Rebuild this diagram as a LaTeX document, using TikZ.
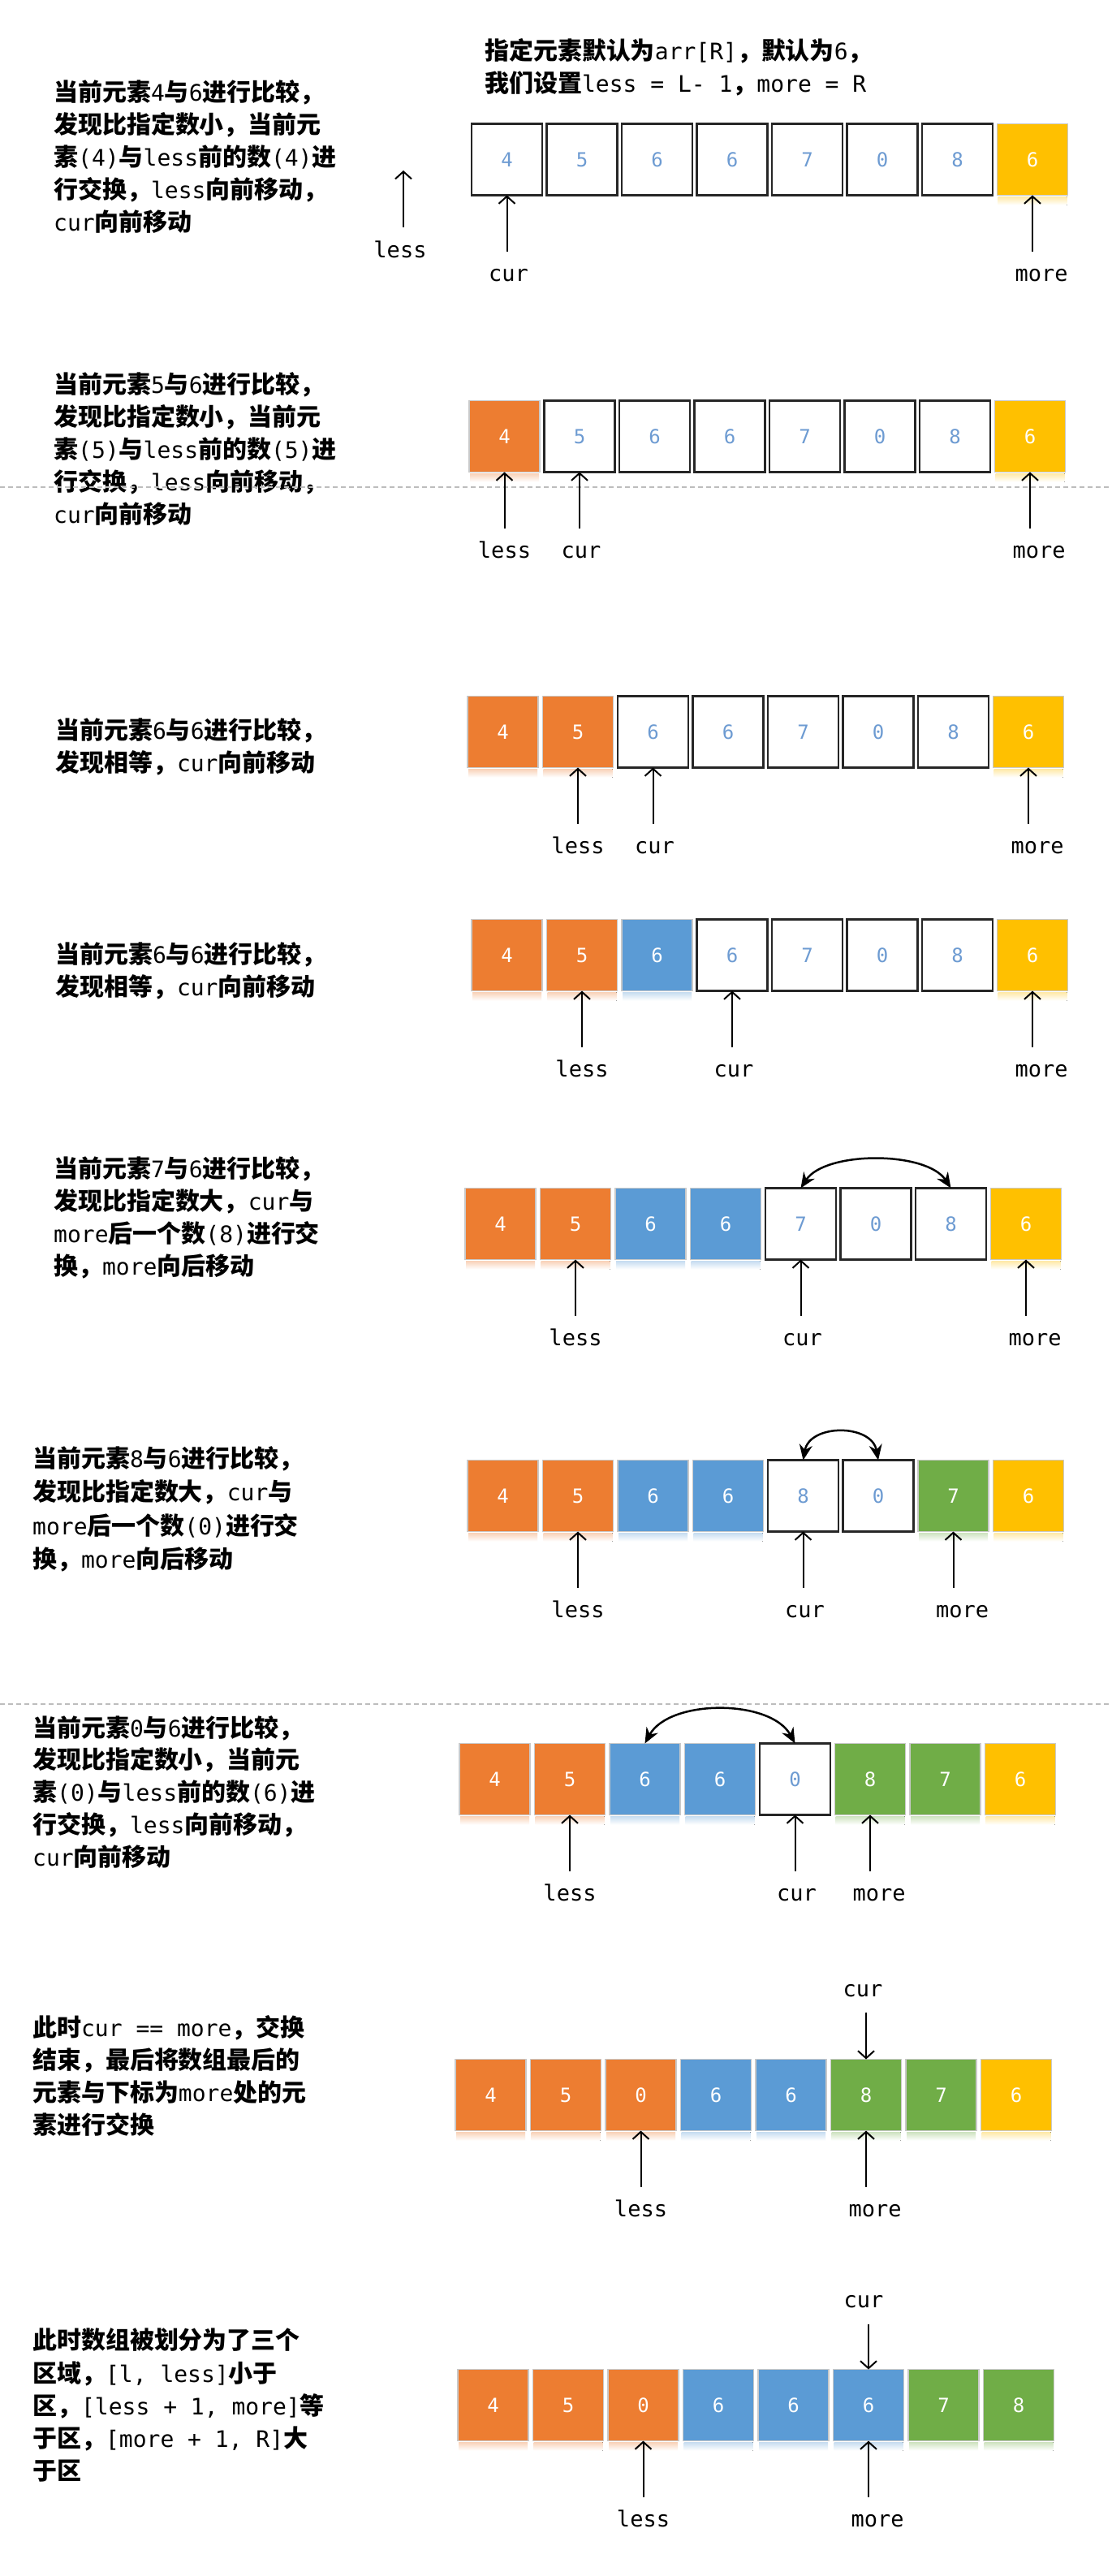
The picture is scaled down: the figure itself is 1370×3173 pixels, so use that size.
\documentclass[tikz,border=0pt]{standalone}
\usepackage{fontspec}
\setmainfont{DejaVu Sans Mono}
\newfontfamily\cjkf[Scale=1.07]{Noto Sans CJK SC}
\usetikzlibrary{arrows.meta,calc}
\definecolor{cO}{HTML}{ED7D31}
\definecolor{cB}{HTML}{5B9BD5}
\definecolor{cY}{HTML}{FFC000}
\definecolor{cG}{HTML}{70AD47}
\definecolor{cnum}{HTML}{6D9BD2}
\definecolor{cedge}{HTML}{C9C9C9}
\definecolor{cdash}{HTML}{BDBDBD}
\newcommand\zh[1]{{\cjkf\bfseries #1}}
\tikzset{
  cell/.style={minimum width=87pt, minimum height=88pt, inner sep=0pt, outer sep=0pt,
    font=\fontsize{24}{24}\selectfont, line width=1.5pt},
  cellO/.style={cell, fill=cO, draw=cedge, text=white},
  cellB/.style={cell, fill=cB, draw=cedge, text=white},
  cellY/.style={cell, fill=cY, draw=cedge, text=white},
  cellG/.style={cell, fill=cG, draw=cedge, text=white},
  cellW/.style={cell, fill=white, draw=black!85, line width=2.5pt, text=cnum},
  lbl/.style={anchor=base, inner sep=0pt, font=\fontsize{27}{27}\selectfont},
  txt/.style={anchor=base west, inner sep=0pt, font=\fontsize{28}{40}\selectfont},
  ptr/.style={line width=2pt, -{Straight Barb[length=9pt, width=20pt, line width=2pt]}},
  swp/.style={line width=2.5pt, {Stealth[length=19pt, width=16pt]}-{Stealth[length=19pt, width=16pt]}},
  sep/.style={cdash, line width=1.3pt, dash pattern=on 6pt off 4pt},
}
% #1 prefix, #2 x0, #3 top, #4 list colour/value
\newcommand\cellrow[4]{%
  \foreach [count=\i] \cc/\vv in {#4} {
    \node[cell\cc] (#1-\i) at ({#2+(\i-1)*92.5+44.5},{#3+44.5}) {\vv};
    \if\cc W\relax\else
      \fill[top color=c\cc!35!white, bottom color=white]
        ($(#1-\i.south west)+(1,1.5)$) rectangle ($(#1-\i.south east)+(-1,12)$);
    \fi
  }%
}
% #1 prefix, #2 cell, #3 label, #4 label x shift
\newcommand\ptrup[4]{%
  \coordinate (#1-#3-t) at ($(#1-#2.south)+(0,69)$);
  \draw[ptr] (#1-#3-t) -- (#1-#2.south);
  \node[lbl] (#1-#3) at ($(#1-#2.south)+(#4,106)$) {#3};
}
\begin{document}
\begin{tikzpicture}[x=1pt,y=-1pt]
\fill[white] (0,0) rectangle (1370,3173);
\useasboundingbox (0,0) rectangle (1370,3173);

% ---------- section 1
\node[txt] (t0a) at (597,73) {\zh{指定元素默认为}arr[R]\zh{，默认为}6\zh{，}};
\node[txt] (t0b) at (597,113) {\zh{我们设置}less = L- 1\zh{，}more = R};
\node[txt] (t1a) at (66,124) {\zh{当前元素}4\zh{与}6\zh{进行比较，}};
\node[txt] (t1b) at (66,164) {\zh{发现比指定数小，当前元}};
\node[txt] (t1c) at (66,204) {\zh{素}(4)\zh{与}less\zh{前的数}(4)\zh{进}};
\node[txt] (t1d) at (66,244) {\zh{行交换，}less\zh{向前移动，}};
\node[txt] (t1e) at (66,284) {cur\zh{向前移动}};
\cellrow{s1}{580}{152}{W/4,W/5,W/6,W/6,W/7,W/0,W/8,Y/6}
\coordinate (s1-less-h) at (497,210);
\coordinate (s1-less-t) at (497,280);
\draw[ptr] (s1-less-t) -- (s1-less-h);
\node[lbl] (s1-less) at (493,317) {less};
\ptrup{s1}{1}{cur}{2}
\ptrup{s1}{8}{more}{11}

% ---------- section 2
\node[txt] (t2a) at (66,484) {\zh{当前元素}5\zh{与}6\zh{进行比较，}};
\node[txt] (t2b) at (66,524) {\zh{发现比指定数小，当前元}};
\node[txt] (t2c) at (66,564) {\zh{素}(5)\zh{与}less\zh{前的数}(5)\zh{进}};
\node[txt] (t2d) at (66,604) {\zh{行交换，}less\zh{向前移动，}};
\node[txt] (t2e) at (66,644) {cur\zh{向前移动}};
\draw[sep] (0,600) -- (1370,600);
\cellrow{s2}{577}{493}{O/4,W/5,W/6,W/6,W/7,W/0,W/8,Y/6}
\ptrup{s2}{1}{less}{0}
\ptrup{s2}{2}{cur}{2}
\ptrup{s2}{8}{more}{11}

% ---------- section 3
\node[txt] (t3a) at (68,910) {\zh{当前元素}6\zh{与}6\zh{进行比较，}};
\node[txt] (t3b) at (68,950) {\zh{发现相等，}cur\zh{向前移动}};
\cellrow{s3}{575}{857}{O/4,O/5,W/6,W/6,W/7,W/0,W/8,Y/6}
\ptrup{s3}{2}{less}{0}
\ptrup{s3}{3}{cur}{2}
\ptrup{s3}{8}{more}{11}

% ---------- section 4
\node[txt] (t4a) at (68,1186) {\zh{当前元素}6\zh{与}6\zh{进行比较，}};
\node[txt] (t4b) at (68,1226) {\zh{发现相等，}cur\zh{向前移动}};
\cellrow{s4}{580}{1132}{O/4,O/5,B/6,W/6,W/7,W/0,W/8,Y/6}
\ptrup{s4}{2}{less}{0}
\ptrup{s4}{4}{cur}{2}
\ptrup{s4}{8}{more}{11}

% ---------- section 5
\node[txt] (t5a) at (66,1450) {\zh{当前元素}7\zh{与}6\zh{进行比较，}};
\node[txt] (t5b) at (66,1490) {\zh{发现比指定数大，}cur\zh{与}};
\node[txt] (t5c) at (66,1530) {more\zh{后一个数}(8)\zh{进行交}};
\node[txt] (t5d) at (66,1570) {\zh{换，}more\zh{向后移动}};
\cellrow{s5}{572}{1463}{O/4,O/5,B/6,B/6,W/7,W/0,W/8,Y/6}
\draw[swp] (s5-5.north) .. controls ($(s5-5.north)+(30,-46)$) and ($(s5-7.north)+(-30,-46)$) .. (s5-7.north);
\ptrup{s5}{2}{less}{0}
\ptrup{s5}{5}{cur}{2}
\ptrup{s5}{8}{more}{11}

% ---------- section 6
\node[txt] (t6a) at (40,1807) {\zh{当前元素}8\zh{与}6\zh{进行比较，}};
\node[txt] (t6b) at (40,1848) {\zh{发现比指定数大，}cur\zh{与}};
\node[txt] (t6c) at (40,1890) {more\zh{后一个数}(0)\zh{进行交}};
\node[txt] (t6d) at (40,1931) {\zh{换，}more\zh{向后移动}};
\cellrow{s6}{575}{1798}{O/4,O/5,B/6,B/6,W/8,W/0,G/7,Y/6}
\draw[swp] (s6-5.north) .. controls ($(s6-5.north)+(8,-45)$) and ($(s6-6.north)+(-8,-45)$) .. (s6-6.north);
\ptrup{s6}{2}{less}{0}
\ptrup{s6}{5}{cur}{2}
\ptrup{s6}{7}{more}{11}

% ---------- section 7
\draw[sep] (0,2099) -- (1370,2099);
\node[txt] (t7a) at (40,2139) {\zh{当前元素}0\zh{与}6\zh{进行比较，}};
\node[txt] (t7b) at (40,2178) {\zh{发现比指定数小，当前元}};
\node[txt] (t7c) at (40,2218) {\zh{素}(0)\zh{与}less\zh{前的数}(6)\zh{进}};
\node[txt] (t7d) at (40,2258) {\zh{行交换，}less\zh{向前移动，}};
\node[txt] (t7e) at (40,2298) {cur\zh{向前移动}};
\cellrow{s7}{565}{2147}{O/4,O/5,B/6,B/6,W/0,G/8,G/7,Y/6}
\draw[swp] (s7-3.north) .. controls ($(s7-3.north)+(30,-55)$) and ($(s7-5.north)+(-30,-55)$) .. (s7-5.north);
\ptrup{s7}{2}{less}{0}
\ptrup{s7}{5}{cur}{2}
\ptrup{s7}{6}{more}{11}

% ---------- section 8
\node[txt] (t8a) at (40,2508) {\zh{此时}cur == more\zh{，交换}};
\node[txt] (t8b) at (40,2548) {\zh{结束，最后将数组最后的}};
\node[txt] (t8c) at (40,2588) {\zh{元素与下标为}more\zh{处的元}};
\node[txt] (t8d) at (40,2628) {\zh{素进行交换}};
\cellrow{s8}{560}{2536}{O/4,O/5,O/0,B/6,B/6,G/8,G/7,Y/6}
\node[lbl] (s8-cur) at (1063,2459) {cur};
\coordinate (s8-cur-t) at ($(s8-6.north)+(0,-58)$);
\draw[ptr] (s8-cur-t) -- (s8-6.north);
\ptrup{s8}{3}{less}{0}
\ptrup{s8}{6}{more}{11}

% ---------- section 9
\node[txt] (t9a) at (40,2893) {\zh{此时数组被划分为了三个}};
\node[txt] (t9b) at (40,2934) {\zh{区域，}[l, less]\zh{小于}};
\node[txt] (t9c) at (40,2974) {\zh{区，}[less + 1, more]\zh{等}};
\node[txt] (t9d) at (40,3014) {\zh{于区，}[more + 1, R]\zh{大}};
\node[txt] (t9e) at (40,3054) {\zh{于区}};
\cellrow{s9}{563}{2918}{O/4,O/5,O/0,B/6,B/6,B/6,G/7,G/8}
\node[lbl] (s9-cur) at (1064,2842) {cur};
\coordinate (s9-cur-t) at ($(s9-6.north)+(0,-56)$);
\draw[ptr] (s9-cur-t) -- (s9-6.north);
\ptrup{s9}{3}{less}{0}
\ptrup{s9}{6}{more}{11}
\end{tikzpicture}
\end{document}
